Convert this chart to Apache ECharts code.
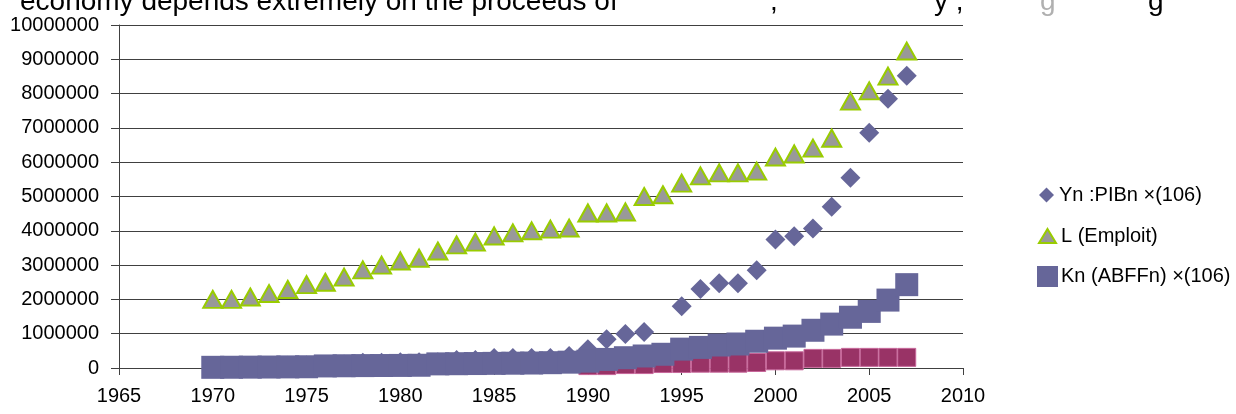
<!DOCTYPE html>
<html>
<head>
<meta charset="utf-8">
<script src="https://cdn.jsdelivr.net/npm/echarts@6/dist/echarts.min.js"></script>
<style>
  html, body { margin: 0; padding: 0; background: #fff; }
  #main { width: 1236px; height: 414px; }
</style>
</head>
<body>
<div id="main"></div>
<script>
/* donnees */
var years = [1970, 1971, 1972, 1973, 1974, 1975, 1976, 1977, 1978, 1979,
    1980, 1981, 1982, 1983, 1984, 1985, 1986, 1987, 1988, 1989,
    1990, 1991, 1992, 1993, 1994, 1995, 1996, 1997, 1998, 1999,
    2000, 2001, 2002, 2003, 2004, 2005, 2006, 2007];

var yearsDn = [1990, 1991, 1992, 1993, 1994, 1995, 1996, 1997, 1998, 1999,
    2000, 2001, 2002, 2003, 2004, 2005, 2006, 2007];

// Yn :PIBn (1994 manquant / cache)
var ynValues = [30000, 35000, 40000, 60000, 65000, 70000, 80000, 100000, 150000, 150000,
    170000, 170000, 170000, 230000, 230000, 290000, 290000, 290000, 290000, 350000,
    550000, 840000, 990000, 1050000, null, 1800000, 2300000, 2470000, 2470000, 2850000,
    3750000, 3840000, 4070000, 4700000, 5550000, 6860000, 7850000, 8520000];

// L (Emploit)
var lValues = [2000000, 2000000, 2070000, 2170000, 2290000, 2430000, 2500000, 2650000, 2860000, 3000000,
    3120000, 3200000, 3410000, 3590000, 3670000, 3850000, 3940000, 4000000, 4050000, 4080000,
    4520000, 4520000, 4550000, 5000000, 5050000, 5390000, 5600000, 5690000, 5690000, 5740000,
    6150000, 6240000, 6410000, 6700000, 7780000, 8080000, 8510000, 9240000];

// Kn (ABFFn)
var knValues = [20000, 22000, 25000, 28000, 32000, 36000, 60000, 65000, 70000, 72000,
    75000, 80000, 120000, 125000, 130000, 135000, 140000, 145000, 155000, 170000,
    200000, 250000, 300000, 350000, 400000, 550000, 600000, 670000, 700000, 780000,
    870000, 930000, 1100000, 1280000, 1480000, 1650000, 1980000, 2430000];

// serie bordeaux (sans legende)
var dnValues = [70000, 70000, 100000, 100000, 130000, 130000, 140000, 140000, 140000, 160000,
    210000, 210000, 280000, 280000, 310000, 310000, 310000, 310000];

var xTicks = { min: 1965, max: 2010, step: 5 };
var yTicks = { min: 0, max: 10000000, step: 1000000 };

var names = ['Yn :PIBn ×(106)', 'L (Emploit)', 'Kn (ABFFn) ×(106)', 'Série 4'];

/* function: associe annees et valeurs, en sautant les valeurs manquantes */
function pairs(xs, vs) {
    var arr = [];
    for (var i = 0; i < xs.length; i++) {
        if (vs[i] !== null) arr.push([xs[i], vs[i]]);
    }
    return arr;
}

var FONT = 'Liberation Sans';
var lineColor = '#404040';

var chart = echarts.init(document.getElementById('main'), null, { renderer: 'canvas' });

var option = {
    backgroundColor: '#fff',
    animation: false,
    textStyle: { fontFamily: FONT },
    grid: {
        left: 119,
        right: 273,
        top: 25,
        bottom: 46,
        containLabel: false,
        outerBoundsMode: 'none'
    },
    // texte du document, coupe en haut
    graphic: [{
        type: 'text', left: 20, top: -12,
        style: { text: 'economy depends extremely on the proceeds of', fontFamily: FONT, fontSize: 28, fill: '#000' }
    }, {
        type: 'text', left: 770, top: -12,
        style: { text: ',', fontFamily: FONT, fontSize: 28, fill: '#000' }
    }, {
        type: 'text', left: 934, top: -12,
        style: { text: 'y ,', fontFamily: FONT, fontSize: 28, fill: '#000' }
    }, {
        type: 'text', left: 1040, top: -12,
        style: { text: 'g', fontFamily: FONT, fontSize: 28, fill: '#b0b0b0' }
    }, {
        type: 'text', left: 1148, top: -12,
        style: { text: 'g', fontFamily: FONT, fontSize: 28, fill: '#000' }
    }],
    legend: [{
        selectedMode: false,
        orient: 'vertical',
        left: 1039, top: 185,
        padding: 0,
        itemWidth: 15, itemHeight: 15,
        textStyle: { fontFamily: FONT, fontSize: 20, color: '#000' },
        data: [{ name: names[0], icon: 'diamond' }]
    }, {
        selectedMode: false,
        orient: 'vertical',
        left: 1038, top: 226,
        padding: 0,
        itemWidth: 17, itemHeight: 14,
        itemStyle: { color: '#999999', borderColor: '#99cc00', borderWidth: 2 },
        textStyle: { fontFamily: FONT, fontSize: 20, color: '#000' },
        data: [{ name: names[1], icon: 'triangle' }]
    }, {
        selectedMode: false,
        orient: 'vertical',
        left: 1037, top: 266,
        padding: 0,
        itemWidth: 21, itemHeight: 21,
        textStyle: { fontFamily: FONT, fontSize: 20, color: '#000', padding: [0, 0, 0, -2] },
        data: [{ name: names[2], icon: 'rect' }]
    }],
    xAxis: {
        type: 'value',
        min: xTicks.min,
        max: xTicks.max,
        interval: xTicks.step,
        axisLine: { show: true, lineStyle: { color: lineColor, width: 1 } },
        axisTick: { show: true, length: 7, lineStyle: { color: lineColor } },
        axisLabel: {
            color: '#000', fontSize: 20, fontFamily: FONT, margin: 18,
            formatter: function (v) { return String(v); }
        },
        splitLine: { show: false }
    },
    yAxis: {
        type: 'value',
        min: yTicks.min,
        max: yTicks.max,
        interval: yTicks.step,
        axisLine: { show: true, lineStyle: { color: lineColor, width: 1 } },
        axisTick: { show: true, length: 8, lineStyle: { color: lineColor } },
        axisLabel: {
            color: '#000', fontSize: 20, fontFamily: FONT, margin: 20,
            formatter: function (v) { return String(v); }
        },
        splitLine: { show: true, lineStyle: { color: lineColor, width: 1.2 } }
    },
    // ordre de dessin : bordeaux sous Kn, diamants sous les carres
    series: [{
        name: names[3],
        type: 'scatter',
        symbol: 'rect',
        symbolSize: 18,
        itemStyle: { color: '#993366', borderColor: '#c7679a', borderWidth: 1, opacity: 1 },
        data: pairs(yearsDn, dnValues)
    }, {
        name: names[0],
        type: 'scatter',
        symbol: 'diamond',
        symbolSize: 20,
        itemStyle: { color: '#666699', opacity: 1 },
        data: pairs(years, ynValues)
    }, {
        name: names[1],
        type: 'scatter',
        symbol: 'triangle',
        symbolSize: [19, 17],
        itemStyle: { color: '#999999', borderColor: '#99cc00', borderWidth: 2, opacity: 1 },
        data: pairs(years, lValues)
    }, {
        name: names[2],
        type: 'scatter',
        symbol: 'rect',
        symbolSize: 23,
        itemStyle: { color: '#666699', opacity: 1 },
        data: pairs(years, knValues)
    }]
};

chart.setOption(option);
</script>
</body>
</html>
